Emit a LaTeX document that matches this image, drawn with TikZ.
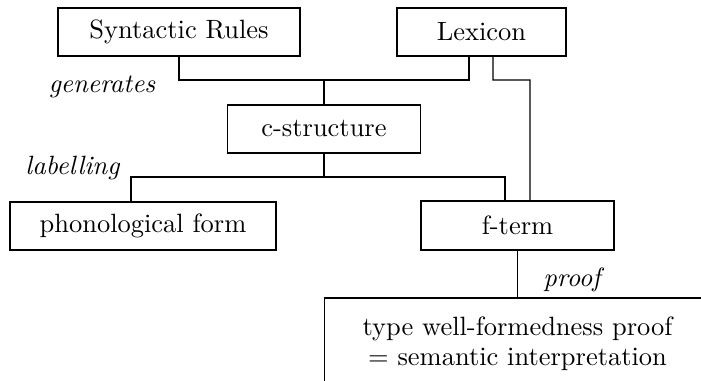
\documentclass[tikz,border=0pt]{standalone}
\usetikzlibrary{calc}
\begin{document}
\begin{tikzpicture}[x=0.378pt,y=-0.378pt,
  box/.style={draw,line width=0.4pt,inner sep=0pt,align=center},
  conn/.style={draw,line width=0.4pt},
  lbl/.style={font=\itshape,inner sep=0pt}]
\useasboundingbox (0,0) rectangle (701,381);
\clip (0,0) rectangle (701,381);
\node[box,minimum width=242*0.378pt,minimum height=48*0.378pt] (sr) at (179,32) {Syntactic Rules};
\node[box,minimum width=169*0.378pt,minimum height=48*0.378pt] (lex) at (481.5,32) {Lexicon};
\node[box,minimum width=193*0.378pt,minimum height=48*0.378pt] (cs) at (324,129) {c-structure};
\node[box,minimum width=266*0.378pt,minimum height=48*0.378pt] (pf) at (143,226) {phonological form};
\node[box,minimum width=193*0.378pt,minimum height=49*0.378pt] (ft) at (517.5,225.5) {f-term};
\node[box,minimum width=386*0.378pt,minimum height=92*0.378pt] (tw) at (517.5,344) {type well-formedness proof\\[-0.5pt] = semantic interpretation};
\coordinate (j1) at (cs.north |- 0,80);
\coordinate (j2) at (cs.south |- 0,177);
\coordinate (j3) at (530,80);
\draw[conn] (sr.south) |- (j1) -| ($(lex.south)+(-12.5,0)$);
\draw[conn] (j1) -- (cs.north);
\draw[conn] (cs.south) -- (j2);
\draw[conn] ($(pf.north)+(-12,0)$) |- (j2) -| ($(ft.north)+(-12.5,0)$);
\draw[conn] ($(lex.south)+(11.5,0)$) |- (j3) -- ($(ft.north)+(12.5,0)$);
\draw[conn] (ft.south) -- (tw.north);
\node[lbl] (gen) at (102,87) {generates};
\node[lbl] (lab) at (72.5,168) {labelling};
\node[lbl] (prf) at (572,280) {proof};
\end{tikzpicture}
\end{document}
